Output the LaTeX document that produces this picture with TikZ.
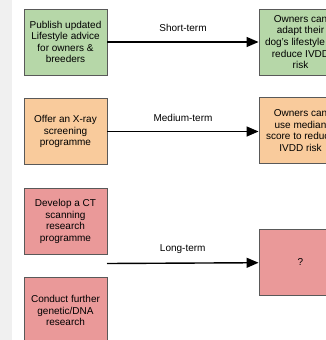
\documentclass[tikz,border=0pt]{standalone}
\usepackage{fontspec}
\setmainfont{Liberation Sans}
\usetikzlibrary{positioning,
				arrows.meta}
\definecolor{sgreen}{HTML}{B6D7A8}
\definecolor{mamber}{HTML}{F9CB9C}
\definecolor{lred}{HTML}{EA9999}
\definecolor{edge}{HTML}{595959}

\begin{document}
\begin{tikzpicture}[x=1pt, y=-1pt,
		box/.style={draw=edge, line width=.9pt, minimum width=83pt, minimum height=66pt,
			align=center, inner sep=2pt,
			font=\fontsize{10}{11.6}\selectfont},
		link/.style={-{Triangle[length=12pt,width=10pt]}, line width=1.4pt},
		lab/.style={font=\fontsize{10}{12}\selectfont}]
			\useasboundingbox (0,0) rectangle (326,340);
			\clip (0,0) rectangle (326,340);
			\fill[black!6] (0,0) rectangle (12,340);
			% left column
			\node[box, fill=sgreen] (pub) at (65.5,42) {Publish updated\\Lifestyle advice\\for owners \&\\breeders};
			\node[box, fill=mamber] (xray) at (65.5,131.5) {Offer an X-ray\\screening\\programme};
			\node[box, fill=lred] (ct) at (65.5,221.5) {Develop a CT\\scanning\\research\\programme};
			\node[box, fill=lred] (dna) at (65.5,310.5) {Conduct further\\genetic/DNA\\research};
			% right column
			\node[box, fill=sgreen] (adapt) at (300.5,42) {Owners can\\adapt their\\dog's lifestyle to\\reduce IVDD\\risk};
			\node[box, fill=mamber] (median) at (300.5,130.5) {Owners can\\use median\\score to reduce\\IVDD risk};
			\node[box, fill=lred] (unk) at (300.5,262.5) {?};
			\coordinate (lt) at (107,263.5);
			% arrows
			\draw[link] (pub) -- node[lab, above=6pt]{Short-term} (adapt);
			\draw[link] (xray) -- node[lab, above=6pt]{Medium-term} (median.west |- xray);
			\draw[link] (lt) -- node[lab, above=6pt]{Long-term} (unk);
		\end{tikzpicture}
\end{document}
